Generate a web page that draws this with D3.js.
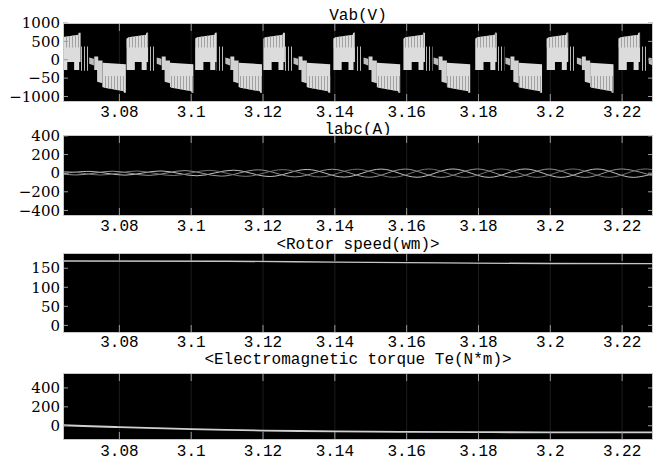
<!DOCTYPE html>
<html>
<head>
<meta charset="utf-8">
<script src="https://cdn.jsdelivr.net/npm/d3@7"></script>
<style>
html, body { margin: 0; padding: 0; background: #fff; }
svg { display: block; }
.title, .xlab { font-family: "Liberation Mono", "DejaVu Sans Mono", monospace; font-size: 16px; fill: #000; }
.ylab { font-family: "DejaVu Serif", "Liberation Serif", serif; font-size: 15px; fill: #000; }
</style>
</head>
<body>
<svg id="fig" width="654" height="463"></svg>
<script>
// ---- time axis (shared by all four scopes) ----
var tStart = 3.0643, tEnd = 3.2286;
var xTicks = [3.08, 3.10, 3.12, 3.14, 3.16, 3.18, 3.20, 3.22];
var xTickLabels = ['3.08', '3.1', '3.12', '3.14', '3.16', '3.18', '3.2', '3.22'];

// ---- Vab : start time of every positive PWM block ----
var vabBlockStarts = [3.0440, 3.0632, 3.0820, 3.1011, 3.1201, 3.1396, 3.1591, 3.1791, 3.1990, 3.2190];
// outline of one cycle of the PWM trace, [ms after block start, volts]
var vabPosMain  = [[0,570],[0.5,610],[5.4,680],[5.5,735],[6.0,735],[6.0,-60],[5.6,-60],[5.6,-280],[4.2,-280],[4.2,-60],[2.3,-60],[2.3,-280],[0,-280]];
var vabPosHatch = [[0,570],[0.5,610],[5.4,680],[5.5,735],[6.0,735],[6.0,330],[0,330]];
var vabPosTail  = [[6.0,360],[8.1,360],[8.1,-300],[6.0,-300]];
var vabNotch    = [[8.4,60],[9.7,30],[9.7,-160],[8.4,-110]];
var vabNegLead  = [[9.8,90],[10.9,90],[10.9,-20],[12.1,-20],[12.1,-640],[10.6,-600],[10.6,-280],[9.8,-280]];
var vabNegMain  = [[12.1,-80],[18.6,-120],[18.6,-900],[18.1,-900],[18.0,-860],[12.6,-760],[12.1,-740]];
var vabNegHatch = [[12.1,-440],[18.6,-440],[18.6,-900],[18.1,-900],[18.0,-860],[12.6,-760],[12.1,-740]];

// ---- Iabc : extremes of each phase current [t, A] ----
var iaPeaks = [[3.0615,-18],[3.0715,19],[3.0816,-21],[3.0916,24],[3.1016,-28],[3.1117,32],[3.1220,-36],[3.1323,40],[3.1426,-42],[3.1529,44],[3.1629,-44],[3.1729,45],[3.1830,-45],[3.1930,45],[3.2030,-45],[3.2130,45],[3.2231,-45],[3.2330,45]];
var ibPeaks = [[3.0582,18],[3.0682,-19],[3.0782,21],[3.0883,-24],[3.0983,28],[3.1084,-32],[3.1187,36],[3.1290,-40],[3.1393,42],[3.1496,-44],[3.1596,44],[3.1696,-45],[3.1797,45],[3.1897,-45],[3.1997,45],[3.2097,-45],[3.2198,45],[3.2298,-45]];
var icPeaks = [[3.0548,-17],[3.0648,18],[3.0749,-20],[3.0849,23],[3.0950,-26],[3.1050,30],[3.1153,-34],[3.1256,38],[3.1359,-41],[3.1462,43],[3.1562,-44],[3.1662,45],[3.1763,-45],[3.1863,45],[3.1963,-45],[3.2063,45],[3.2164,-45],[3.2264,45],[3.2364,-45]];

// ---- rotor speed and torque ----
var speed  = [[3.0643,169],[3.1100,168.5],[3.1400,166],[3.1700,164],[3.2000,162.3],[3.2286,162]];
var torque = [[3.0643,5],[3.0700,-3],[3.0800,-15],[3.0900,-26],[3.1000,-36],[3.1100,-44],[3.1200,-51],[3.1300,-56],[3.1400,-60],[3.1500,-63],[3.1600,-65],[3.1800,-68],[3.2000,-70],[3.2286,-70]];

// ---- y tick values / labels per scope ----
var vabTicks = [1000, 500, 0, -500, -1000];
var vabTickLabels = ['1000', '500', '0', '\u221250', '\u22121000'];
var iTicks = [400, 200, 0, -200, -400];
var iTickLabels = ['400', '200', '0', '\u2212200', '\u2212400'];
var wTicks = [150, 100, 50, 0];
var wTickLabels = ['150', '100', '50', '0'];
var teTicks = [400, 200, 0];
var teTickLabels = ['400', '200', '0'];

var svg = d3.select('#fig');
var left = 63, right = 653;
var x = d3.scaleLinear().domain([tStart, tEnd]).range([left, right]);

var defs = svg.append('defs');
var pd = defs.append('pattern').attr('id', 'hatchDark').attr('patternUnits', 'userSpaceOnUse')
    .attr('width', 3).attr('height', 4);
pd.append('rect').attr('width', 1).attr('height', 4).attr('fill', '#a2a2a2');
var pl = defs.append('pattern').attr('id', 'hatchLight').attr('patternUnits', 'userSpaceOnUse')
    .attr('width', 3).attr('height', 4);
pl.append('rect').attr('width', 1).attr('height', 4).attr('fill', '#b8b8b8');

var panels = [
    {id: 'vab', title: 'Vab(V)', titleY: 20, top: 23, bottom: 102, dom: [-1150, 1000], ticks: vabTicks, labels: vabTickLabels, xLabY: 116.5},
    {id: 'iabc', title: 'labc(A)', titleY: 134, top: 135, bottom: 216, dom: [-460, 410], ticks: iTicks, labels: iTickLabels, xLabY: 230.5},
    {id: 'wm', title: '<Rotor speed(wm)>', titleY: 248.5, top: 253, bottom: 333, dom: [-20, 190], ticks: wTicks, labels: wTickLabels, xLabY: 347},
    {id: 'te', title: '<Electromagnetic torque Te(N*m)>', titleY: 364, top: 373, bottom: 440, dom: [-151, 558], ticks: teTicks, labels: teTickLabels, xLabY: 455.5}
];

panels.forEach(function (p) {
    p.y = d3.scaleLinear().domain(p.dom).range([p.bottom, p.top]);
    var g = svg.append('g').attr('class', 'panel ' + p.id);

    defs.append('clipPath').attr('id', 'clip-' + p.id)
        .append('rect').attr('x', left).attr('y', p.top)
        .attr('width', right - left).attr('height', p.bottom - p.top);

    g.append('rect').attr('x', left).attr('y', p.top)
        .attr('width', right - left).attr('height', p.bottom - p.top)
        .attr('fill', '#000');

    // faint grid
    g.selectAll('line.grid').data(xTicks).enter().append('line')
        .attr('class', 'grid')
        .attr('x1', function (d) { return x(d); }).attr('x2', function (d) { return x(d); })
        .attr('y1', p.top).attr('y2', p.bottom)
        .attr('stroke', '#1c1c1c').attr('stroke-width', 1);

    p.plot = g.append('g').attr('clip-path', 'url(#clip-' + p.id + ')');
    p.g = g;

    g.append('text').attr('class', 'title')
        .attr('x', (left + right) / 2).attr('y', p.titleY)
        .attr('text-anchor', 'middle').text(p.title);

    g.selectAll('text.xlab').data(xTicks).enter().append('text')
        .attr('class', 'xlab')
        .attr('x', function (d) { return x(d); }).attr('y', p.xLabY)
        .attr('text-anchor', 'middle')
        .text(function (d, i) { return xTickLabels[i]; });

    g.selectAll('text.ylab').data(p.ticks).enter().append('text')
        .attr('class', 'ylab')
        .attr('x', 60).attr('y', function (d) { return p.y(d); })
        .attr('dy', '0.35em').attr('text-anchor', 'end')
        .text(function (d, i) { return p.labels[i]; });
});

// ---- Vab PWM blocks ----
(function () {
    var p = panels[0];
    var line = d3.line();
    function shape(s, pts) {
        return line(pts.map(function (d) { return [x(s + d[0] / 1000), p.y(d[1])]; })) + 'Z';
    }
    vabBlockStarts.forEach(function (s) {
        var c = p.plot.append('g');
        c.append('path').attr('d', shape(s, vabPosMain)).attr('fill', '#dcdcdc');
        c.append('path').attr('d', shape(s, vabPosHatch)).attr('fill', 'url(#hatchDark)');
        c.append('path').attr('d', shape(s, vabPosTail)).attr('fill', 'url(#hatchLight)');
        c.append('path').attr('d', shape(s, vabNotch)).attr('fill', '#bdbdbd');
        c.append('path').attr('d', shape(s, vabNegLead)).attr('fill', '#d2d2d2');
        c.append('path').attr('d', shape(s, vabNegMain)).attr('fill', '#dcdcdc');
        c.append('path').attr('d', shape(s, vabNegHatch)).attr('fill', 'url(#hatchDark)');
    });
})();

// ---- three phase currents ----
(function () {
    var p = panels[1];
    var line = d3.line()
        .x(function (d) { return x(d[0]); })
        .y(function (d) { return p.y(d[1]); })
        .curve(d3.curveCatmullRom);
    [[iaPeaks, '#c0c0c0'], [ibPeaks, '#969696'], [icPeaks, '#747474']].forEach(function (s) {
        p.plot.append('path').datum(s[0]).attr('d', line)
            .attr('fill', 'none').attr('stroke', s[1]).attr('stroke-width', 1);
    });
})();

// ---- speed & torque ----
[[2, speed, '#c6c6c6', 1.4], [3, torque, '#d0d0d0', 1.8]].forEach(function (s) {
    var p = panels[s[0]];
    var line = d3.line()
        .x(function (d) { return x(d[0]); })
        .y(function (d) { return p.y(d[1]); })
        .curve(d3.curveMonotoneX);
    p.plot.append('path').datum(s[1]).attr('d', line)
        .attr('fill', 'none').attr('stroke', s[2]).attr('stroke-width', s[3]);
});

// ---- ticks and frame on top ----
panels.forEach(function (p) {
    var g = p.g;
    g.selectAll('line.xt').data(xTicks.concat(xTicks)).enter().append('line')
        .attr('class', 'xt')
        .attr('x1', function (d) { return x(d); }).attr('x2', function (d) { return x(d); })
        .attr('y1', function (d, i) { return i < xTicks.length ? p.bottom : p.top; })
        .attr('y2', function (d, i) { return i < xTicks.length ? p.bottom - 8 : p.top + 8; })
        .attr('stroke', '#9a9a9a');
    g.selectAll('line.yt').data(p.ticks.concat(p.ticks)).enter().append('line')
        .attr('class', 'yt')
        .attr('y1', function (d) { return p.y(d); }).attr('y2', function (d) { return p.y(d); })
        .attr('x1', function (d, i) { return i < p.ticks.length ? left : right; })
        .attr('x2', function (d, i) { return i < p.ticks.length ? left + 5 : right - 5; })
        .attr('stroke', '#9a9a9a');
    g.append('rect').attr('x', left + 0.5).attr('y', p.top + 0.5)
        .attr('width', right - left - 1).attr('height', p.bottom - p.top - 1)
        .attr('fill', 'none').attr('stroke', '#c8c8c8').attr('stroke-width', 1);
});
</script>
</body>
</html>
